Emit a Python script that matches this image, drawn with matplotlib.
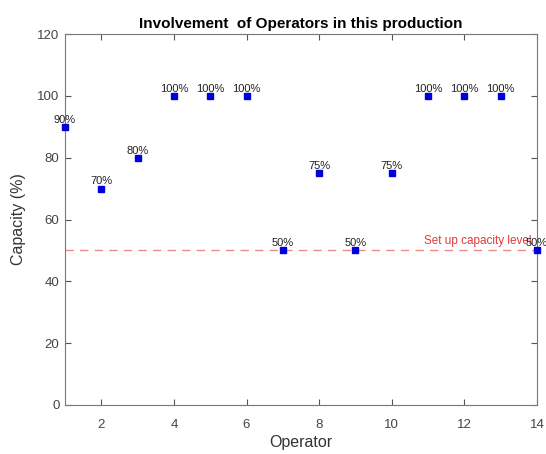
import matplotlib.pyplot as plt
import numpy as np

plt.rcParams['font.family'] = ['Liberation Sans', 'DejaVu Sans']

# capacity of each operator (%)
operators = np.arange(1, 15)
capacity = [90, 70, 80, 100, 100, 100, 50, 75, 50, 75, 100, 100, 100, 50]
setup_level = 50
xticks = [2, 4, 6, 8, 10, 12, 14]
yticks = [0, 20, 40, 60, 80, 100, 120]

fig = plt.figure(figsize=(5.46, 4.54), dpi=100)
ax = fig.add_axes([0.119, 0.108, 0.8645, 0.817])

ax.axhline(setup_level, color='#f08a8a', linestyle=(0, (6, 4.5)), linewidth=1)
ax.text(10.9, setup_level + 1.0, 'Set up capacity level', color='#e03a3a',
        fontsize=8.5, va='bottom')

ax.plot(operators, capacity, 's', color='#0000dd', markersize=5, clip_on=False, zorder=3)
for x, y in zip(operators, capacity):
    ax.text(x, y + 2.3, f'{y}%', ha='center', va='center', fontsize=8, color='#222222')

ax.set_xlim(1, 14)
ax.set_ylim(0, 120)
ax.set_xticks(xticks)
ax.set_yticks(yticks)
ax.tick_params(direction='in', top=True, right=True, length=4, colors='#555555',
               labelcolor='#444444', labelsize=9.5)
ax.tick_params(axis='x', pad=10)
ax.tick_params(axis='y', pad=4)
for s in ax.spines.values():
    s.set_color('#777777')
ax.set_xlabel('Operator', fontsize=11.5, color='#333333', labelpad=3)
ax.set_ylabel('Capacity (%)', fontsize=11.5, color='#333333', labelpad=8)
ax.set_title('Involvement  of Operators in this production', fontsize=11,
             fontweight='bold', pad=4)

fig.savefig('out.png')
